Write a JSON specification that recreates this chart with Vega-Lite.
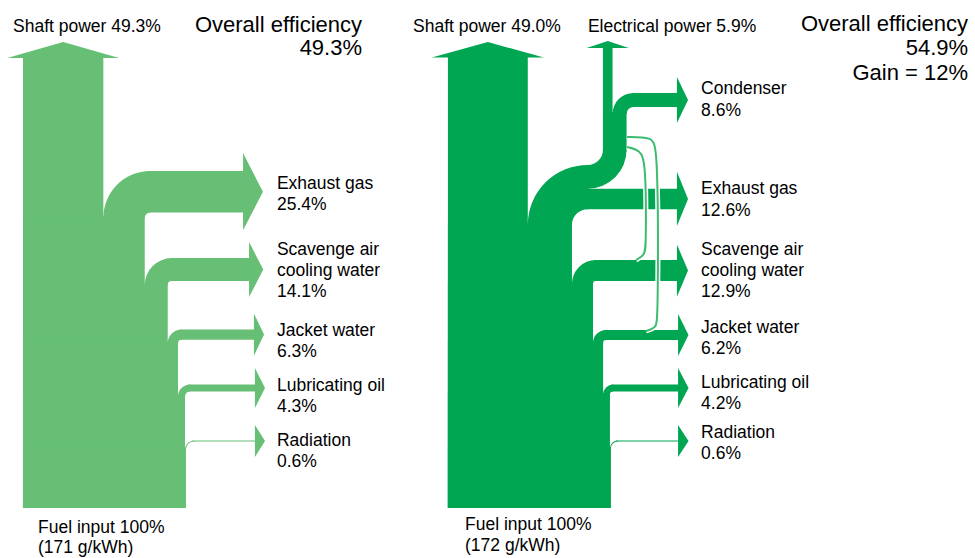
{
  "$schema": "https://vega.github.io/schema/vega-lite/v6.json",
  "width": 975,
  "height": 558,
  "autosize": {"type": "fit", "contains": "padding"},
  "padding": 0,
  "background": "white",
  "config": {"view": {"stroke": null}},
  "datasets": {
    "rects": [
      {"d": "L", "x1": 14.1, "x2": 63.4, "y1": 30.7, "y2": 307.3},
      {"d": "L", "x1": 14.1, "x2": 88.8, "y1": 30.7, "y2": 209.6},
      {"d": "L", "x1": 91.2, "x2": 150.1, "y1": 212.0, "y2": 237.4},
      {"d": "L", "x1": 14.1, "x2": 102.9, "y1": 30.7, "y2": 168.4},
      {"d": "L", "x1": 104.4, "x2": 153.8, "y1": 169.9, "y2": 184.0},
      {"d": "L", "x1": 14.1, "x2": 109.2, "y1": 30.7, "y2": 132.6},
      {"d": "L", "x1": 110.5, "x2": 156.8, "y1": 133.9, "y2": 140.2},
      {"d": "L", "x1": 14.1, "x2": 113.5, "y1": 30.7, "y2": 100.05},
      {"d": "L", "x1": 115.6, "x2": 157.4, "y1": 102.15, "y2": 106.45},
      {"d": "L", "x1": 14.1, "x2": 114.1, "y1": 30.7, "y2": 67.6},
      {"d": "L", "x1": 118.0, "x2": 157.4, "y1": 71.5, "y2": 72.1},
      {"d": "R", "x1": 274.8, "x2": 323.8, "y1": 30.7, "y2": 307.5},
      {"d": "R", "x1": 274.8, "x2": 350.9, "y1": 30.7, "y2": 205.3},
      {"d": "R", "x1": 359.6, "x2": 416.3, "y1": 214.0, "y2": 226.6},
      {"d": "R", "x1": 359.6, "x2": 361.6, "y1": 226.6, "y2": 241.1},
      {"d": "R", "x1": 369.9, "x2": 384.4, "y1": 249.4, "y2": 273.4},
      {"d": "R", "x1": 369.9, "x2": 375.8, "y1": 272.4, "y2": 313.6},
      {"d": "R", "x1": 387.7, "x2": 416.3, "y1": 276.7, "y2": 285.3},
      {"d": "R", "x1": 274.8, "x2": 363.8, "y1": 30.7, "y2": 169.1},
      {"d": "R", "x1": 364.6, "x2": 416.3, "y1": 169.9, "y2": 182.8},
      {"d": "R", "x1": 274.8, "x2": 370.0, "y1": 30.7, "y2": 132.9},
      {"d": "R", "x1": 370.8, "x2": 417.0, "y1": 133.7, "y2": 139.9},
      {"d": "R", "x1": 274.8, "x2": 374.2, "y1": 30.7, "y2": 101.3},
      {"d": "R", "x1": 375.1, "x2": 417.0, "y1": 102.2, "y2": 106.4},
      {"d": "R", "x1": 274.8, "x2": 374.8, "y1": 30.7, "y2": 68.2},
      {"d": "R", "x1": 378.1, "x2": 417.0, "y1": 71.5, "y2": 72.1}
    ],
    "arcs": [
      {"d": "L", "cx": 92.2, "cy": 208.6, "rin": 3.4, "rout": 28.8, "t1": 270, "t2": 360},
      {"d": "L", "cx": 105.4, "cy": 167.4, "rin": 2.5, "rout": 16.6, "t1": 270, "t2": 360},
      {"d": "L", "cx": 111.5, "cy": 131.6, "rin": 2.3, "rout": 8.6, "t1": 270, "t2": 360},
      {"d": "L", "cx": 116.6, "cy": 99.05, "rin": 3.1, "rout": 7.4, "t1": 270, "t2": 360},
      {"d": "L", "cx": 119.0, "cy": 66.6, "rin": 4.9, "rout": 5.5, "t1": 270, "t2": 360},
      {"d": "R", "cx": 360.6, "cy": 204.3, "rin": 9.7, "rout": 36.8, "t1": 270, "t2": 360},
      {"d": "R", "cx": 360.6, "cy": 250.4, "rin": 9.3, "rout": 23.8, "t1": 90, "t2": 180},
      {"d": "R", "cx": 388.7, "cy": 272.4, "rin": 4.3, "rout": 12.9, "t1": 270, "t2": 360},
      {"d": "R", "cx": 365.6, "cy": 168.1, "rin": 1.8, "rout": 14.7, "t1": 270, "t2": 360},
      {"d": "R", "cx": 371.8, "cy": 131.9, "rin": 1.8, "rout": 8.0, "t1": 270, "t2": 360},
      {"d": "R", "cx": 376.1, "cy": 100.3, "rin": 1.9, "rout": 6.1, "t1": 270, "t2": 360},
      {"d": "R", "cx": 379.1, "cy": 67.2, "rin": 4.3, "rout": 4.9, "t1": 270, "t2": 360}
    ],
    "headsRight": [
      {"id": "L1", "d": "L", "x": 149.1, "lo": 201.0, "hi": 248.4},
      {"id": "L1", "d": "L", "x": 161.3, "lo": 224.7, "hi": 224.7},
      {"id": "L2", "d": "L", "x": 152.8, "lo": 160.05, "hi": 193.85},
      {"id": "L2", "d": "L", "x": 161.5, "lo": 176.95, "hi": 176.95},
      {"id": "L3", "d": "L", "x": 155.8, "lo": 124.15, "hi": 149.95},
      {"id": "L3", "d": "L", "x": 162.0, "lo": 137.05, "hi": 137.05},
      {"id": "L4", "d": "L", "x": 156.4, "lo": 92.0, "hi": 116.6},
      {"id": "L4", "d": "L", "x": 162.6, "lo": 104.3, "hi": 104.3},
      {"id": "L5", "d": "L", "x": 156.4, "lo": 62.0, "hi": 81.6},
      {"id": "L5", "d": "L", "x": 162.6, "lo": 71.8, "hi": 71.8},
      {"id": "R1", "d": "R", "x": 415.3, "lo": 203.7, "hi": 236.9},
      {"id": "R1", "d": "R", "x": 422.1, "lo": 220.3, "hi": 220.3},
      {"id": "R2", "d": "R", "x": 415.3, "lo": 266.9, "hi": 295.1},
      {"id": "R2", "d": "R", "x": 422.1, "lo": 281.0, "hi": 281.0},
      {"id": "R3", "d": "R", "x": 415.3, "lo": 160.35, "hi": 192.35},
      {"id": "R3", "d": "R", "x": 422.1, "lo": 176.35, "hi": 176.35},
      {"id": "R4", "d": "R", "x": 416.0, "lo": 123.9, "hi": 149.7},
      {"id": "R4", "d": "R", "x": 422.4, "lo": 136.8, "hi": 136.8},
      {"id": "R5", "d": "R", "x": 416.0, "lo": 92.0, "hi": 116.6},
      {"id": "R5", "d": "R", "x": 422.4, "lo": 104.3, "hi": 104.3},
      {"id": "R6", "d": "R", "x": 416.0, "lo": 62.0, "hi": 81.6},
      {"id": "R6", "d": "R", "x": 422.4, "lo": 71.8, "hi": 71.8}
    ],
    "headsUp": [
      {"id": "LS", "d": "L", "y": 306.8, "lo": 4.4, "hi": 73.1},
      {"id": "LS", "d": "L", "y": 316.6, "lo": 38.75, "hi": 38.75},
      {"id": "RS", "d": "R", "y": 307.0, "lo": 264.95, "hi": 333.65},
      {"id": "RS", "d": "R", "y": 316.6, "lo": 299.3, "hi": 299.3},
      {"id": "RE", "d": "R", "y": 312.9, "lo": 359.95, "hi": 385.75},
      {"id": "RE", "d": "R", "y": 317.2, "lo": 372.85, "hi": 372.85}
    ],
    "thin": [
      {"id": "A", "i": 1, "x": 384.7, "y": 252.1},
      {"id": "A", "i": 2, "x": 392.6, "y": 250.3},
      {"id": "A", "i": 3, "x": 396.3, "y": 242.9},
      {"id": "A", "i": 4, "x": 396.3, "y": 192.0},
      {"id": "A", "i": 5, "x": 395.7, "y": 185.9},
      {"id": "A", "i": 6, "x": 390.2, "y": 182.8},
      {"id": "B", "i": 1, "x": 384.7, "y": 258.3},
      {"id": "B", "i": 2, "x": 400.0, "y": 258.3},
      {"id": "B", "i": 3, "x": 403.7, "y": 252.1},
      {"id": "B", "i": 4, "x": 403.7, "y": 147.2},
      {"id": "B", "i": 5, "x": 402.5, "y": 141.1},
      {"id": "B", "i": 6, "x": 396.3, "y": 139.3}
    ],
    "labels": [
      {"x": 8.0, "y": 323.0, "t": "Shaft power 49.3%"},
      {"x": 169.9, "y": 226.4, "t": "Exhaust gas"},
      {"x": 169.9, "y": 213.5, "t": "25.4%"},
      {"x": 169.9, "y": 185.9, "t": "Scavenge air"},
      {"x": 169.9, "y": 173.0, "t": "cooling water"},
      {"x": 169.9, "y": 160.1, "t": "14.1%"},
      {"x": 169.9, "y": 136.2, "t": "Jacket water"},
      {"x": 169.9, "y": 123.3, "t": "6.3%"},
      {"x": 169.9, "y": 102.5, "t": "Lubricating oil"},
      {"x": 169.9, "y": 89.6, "t": "4.3%"},
      {"x": 169.9, "y": 68.7, "t": "Radiation"},
      {"x": 169.9, "y": 55.8, "t": "0.6%"},
      {"x": 23.3, "y": 15.3, "t": "Fuel input 100%"},
      {"x": 23.3, "y": 3.1, "t": "(171 g/kWh)"},
      {"x": 253.4, "y": 323.0, "t": "Shaft power 49.0%"},
      {"x": 360.7, "y": 323.0, "t": "Electrical power 5.9%"},
      {"x": 430.1, "y": 284.7, "t": "Condenser"},
      {"x": 430.1, "y": 271.2, "t": "8.6%"},
      {"x": 430.1, "y": 223.3, "t": "Exhaust gas"},
      {"x": 430.1, "y": 209.8, "t": "12.6%"},
      {"x": 430.1, "y": 185.9, "t": "Scavenge air"},
      {"x": 430.1, "y": 173.0, "t": "cooling water"},
      {"x": 430.1, "y": 160.1, "t": "12.9%"},
      {"x": 430.1, "y": 138.0, "t": "Jacket water"},
      {"x": 430.1, "y": 125.2, "t": "6.2%"},
      {"x": 430.1, "y": 104.3, "t": "Lubricating oil"},
      {"x": 430.1, "y": 91.4, "t": "4.2%"},
      {"x": 430.1, "y": 73.6, "t": "Radiation"},
      {"x": 430.1, "y": 60.7, "t": "0.6%"},
      {"x": 285.3, "y": 17.2, "t": "Fuel input 100%"},
      {"x": 285.3, "y": 4.3, "t": "(172 g/kWh)"}
    ],
    "big": [
      {"x": 222.1, "y": 322.7, "t": "Overall efficiency"},
      {"x": 222.1, "y": 308.6, "t": "49.3%"},
      {"x": 593.9, "y": 323.3, "t": "Overall efficiency"},
      {"x": 593.9, "y": 308.6, "t": "54.9%"},
      {"x": 593.9, "y": 293.3, "t": "Gain = 12%"}
    ]
  },
  "layer": [
    {
      "data": {"name": "rects"},
      "mark": {"type": "rect"},
      "encoding": {
        "x": {"field": "x1", "type": "quantitative", "axis": null, "scale": {"domain": [0, 598.16], "nice": false, "zero": false}},
        "x2": {"field": "x2"},
        "y": {"field": "y1", "type": "quantitative", "axis": null, "scale": {"domain": [0, 342.33], "nice": false, "zero": false}},
        "y2": {"field": "y2"},
        "color": {"field": "d", "type": "nominal", "legend": null, "scale": {"domain": ["L", "R"], "range": ["#66bf74", "#00a651"]}}
      }
    },
    {
      "data": {"name": "arcs"},
      "mark": {"type": "arc"},
      "encoding": {
        "x": {"field": "cx", "type": "quantitative", "axis": null},
        "y": {"field": "cy", "type": "quantitative", "axis": null},
        "theta": {"field": "t1", "type": "quantitative", "stack": null, "scale": {"type": "linear", "domain": [0, 360], "range": [0, 6.283185307], "zero": true}},
        "theta2": {"field": "t2"},
        "radius": {"field": "rout", "type": "quantitative", "scale": {"type": "linear", "domain": [0, 100], "range": [0, 163], "zero": true}},
        "radius2": {"field": "rin"},
        "color": {"field": "d", "type": "nominal", "legend": null}
      }
    },
    {
      "data": {"name": "headsRight"},
      "mark": {"type": "area", "orient": "vertical"},
      "encoding": {
        "x": {"field": "x", "type": "quantitative", "axis": null},
        "y": {"field": "lo", "type": "quantitative", "axis": null, "stack": null},
        "y2": {"field": "hi"},
        "detail": {"field": "id"},
        "color": {"field": "d", "type": "nominal", "legend": null}
      }
    },
    {
      "data": {"name": "headsUp"},
      "mark": {"type": "area", "orient": "horizontal"},
      "encoding": {
        "y": {"field": "y", "type": "quantitative", "axis": null},
        "x": {"field": "lo", "type": "quantitative", "axis": null, "stack": null},
        "x2": {"field": "hi"},
        "detail": {"field": "id"},
        "color": {"field": "d", "type": "nominal", "legend": null}
      }
    },
    {
      "data": {"name": "thin"},
      "mark": {"type": "line", "interpolate": "basis", "stroke": "white", "strokeWidth": 5},
      "encoding": {
        "x": {"field": "x", "type": "quantitative", "axis": null},
        "y": {"field": "y", "type": "quantitative", "axis": null},
        "detail": {"field": "id"},
        "order": {"field": "i"}
      }
    },
    {
      "data": {"name": "thin"},
      "mark": {"type": "line", "interpolate": "basis", "stroke": "#3dbb70", "strokeWidth": 2},
      "encoding": {
        "x": {"field": "x", "type": "quantitative", "axis": null},
        "y": {"field": "y", "type": "quantitative", "axis": null},
        "detail": {"field": "id"},
        "order": {"field": "i"}
      }
    },
    {
      "data": {"name": "labels"},
      "mark": {"type": "text", "align": "left", "baseline": "alphabetic", "font": "Liberation Sans", "fontSize": 17.5, "color": "#000000"},
      "encoding": {
        "x": {"field": "x", "type": "quantitative", "axis": null},
        "y": {"field": "y", "type": "quantitative", "axis": null},
        "text": {"field": "t"}
      }
    },
    {
      "data": {"name": "big"},
      "mark": {"type": "text", "align": "right", "baseline": "alphabetic", "font": "Liberation Sans", "fontSize": 22, "color": "#000000"},
      "encoding": {
        "x": {"field": "x", "type": "quantitative", "axis": null},
        "y": {"field": "y", "type": "quantitative", "axis": null},
        "text": {"field": "t"}
      }
    }
  ]
}
